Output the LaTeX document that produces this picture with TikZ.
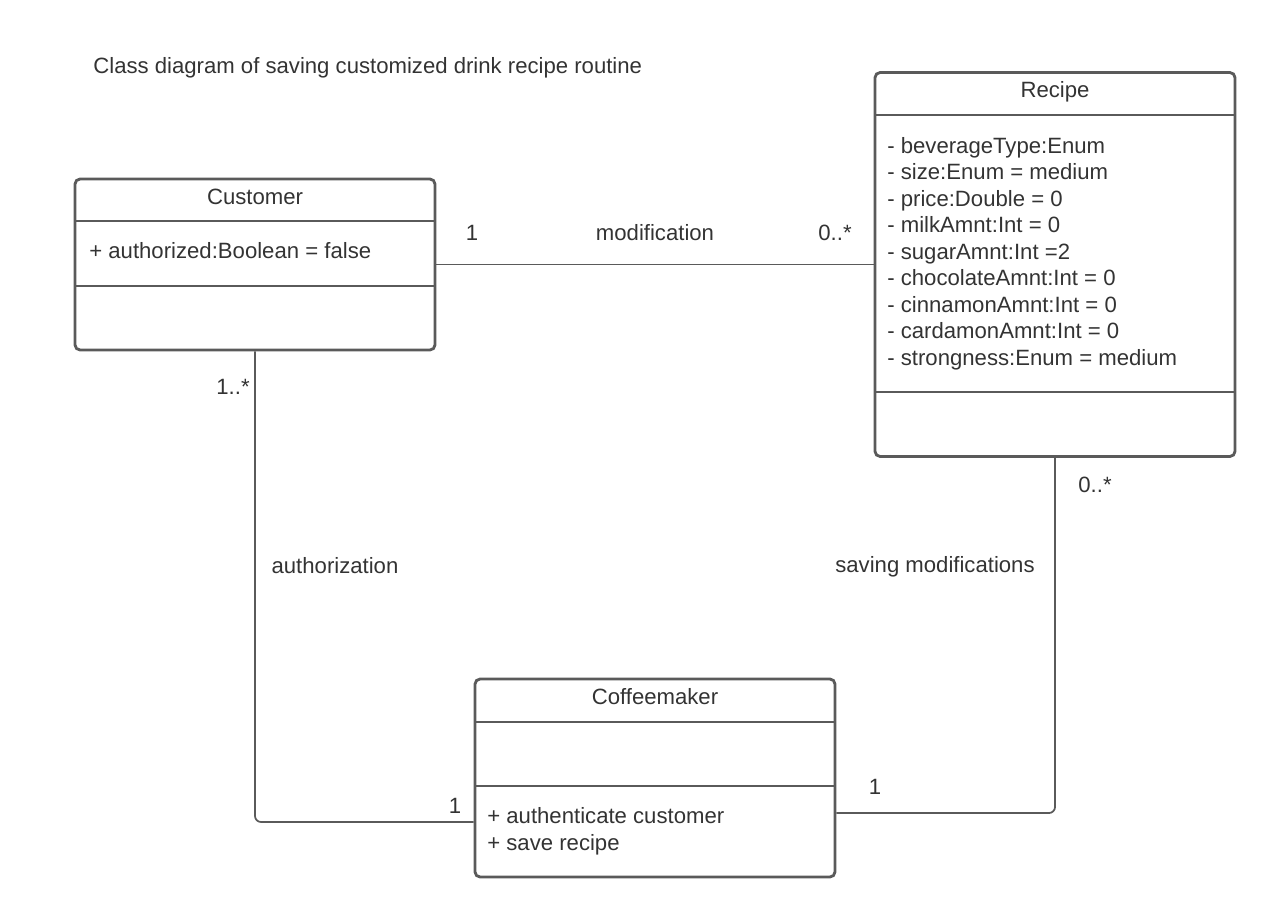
\documentclass[tikz,border=0pt]{standalone}
\usepackage{fontspec}
\setmainfont{Liberation Sans}
\usetikzlibrary{positioning}
\definecolor{ink}{HTML}{333333}
\definecolor{edge}{HTML}{5A5A5A}
\tikzset{
    classbox/.style ={
        shape=rectangle,
        draw=edge,
        line width=1.6pt,
        rounded corners=0.1cm,
        inner sep=0pt
    },
    divider/.style ={
        draw=edge,
        line width=1.4pt
    },
    link/.style ={
        draw=edge,
        line width=1pt,
        rounded corners=0.12cm
    },
    lbl/.style ={
        text=ink,
        inner sep=0pt,
        font=\fontsize{12.6}{15}\selectfont
    },
    members/.style ={
        lbl,
        align=left,
        anchor=west,
        font=\fontsize{12.6}{15.1}\selectfont
    }
}
\begin{document}
\begin{tikzpicture}[x=0.02cm,y=-0.02cm]
    \useasboundingbox (0,0) rectangle (1275,917);
    \node[lbl,anchor=west] (title) at(93,68) {Class diagram of saving customized drink recipe routine};
    % classes
    \node[classbox,minimum width=7.2cm,minimum height=3.42cm] (customer) at(255,264.5) {};
    \node[classbox,minimum width=7.2cm,minimum height=7.68cm] (recipe) at(1055,264.5) {};
    \node[classbox,minimum width=7.2cm,minimum height=3.96cm] (coffeemaker) at(655,778) {};
    \draw[divider] (75,221) -- (435,221);
    \draw[divider] (75,286) -- (435,286);
    \draw[divider] (875,115) -- (1235,115);
    \draw[divider] (875,392) -- (1235,392);
    \draw[divider] (475,722) -- (835,722);
    \draw[divider] (475,786) -- (835,786);
    \node[lbl] (customer-name) at(255,197) {Customer};
    \node[lbl] (recipe-name) at(1055,92) {Recipe};
    \node[lbl] (coffeemaker-name) at(655,697) {Coffeemaker};
    \node[members] (customer-attr) at(89,251) {+ authorized:Boolean = false};
    \node[members] (recipe-attr) at(887,253.5) {- beverageType:Enum\\- size:Enum = medium\\- price:Double = 0\\- milkAmnt:Int = 0\\- sugarAmnt:Int =2\\- chocolateAmnt:Int = 0\\- cinnamonAmnt:Int = 0\\- cardamonAmnt:Int = 0\\- strongness:Enum = medium};
    \node[members] (coffeemaker-ops) at(487,831) {+ authenticate customer\\+ save recipe};
    % associations
    \draw[link] (customer) -- (recipe);
    \draw[link] (customer.south) |- ([yshift=-0.88cm]coffeemaker.west);
    \draw[link] (recipe.south) |- ([yshift=-0.7cm]coffeemaker.east);
    \node[lbl] (mod-1) at(472,233) {1};
    \node[lbl] (mod) at(655,233) {modification};
    \node[lbl] (mod-n) at(835,233) {0..*};
    \node[lbl] (auth-n) at(233,387) {1..*};
    \node[lbl] (auth) at(335,566) {authorization};
    \node[lbl] (auth-1) at(455,806) {1};
    \node[lbl] (save-n) at(1095,485) {0..*};
    \node[lbl] (save) at(935,567) {saving modifications};
    \node[lbl] (save-1) at(875,787) {1};
\end{tikzpicture}
\end{document}
